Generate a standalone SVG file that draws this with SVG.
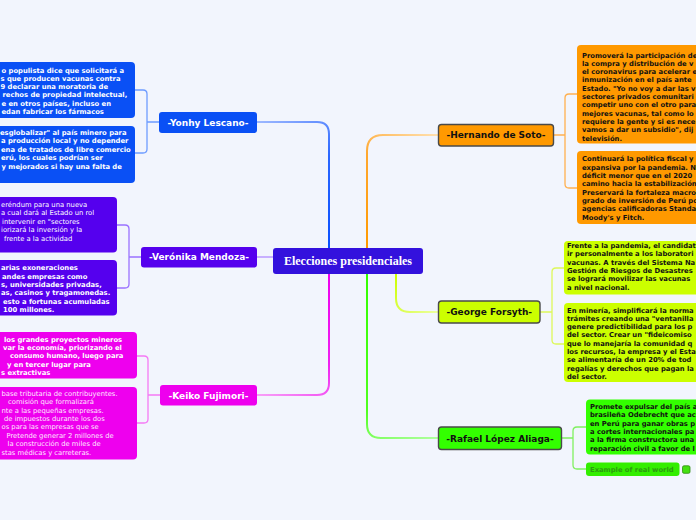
<svg xmlns="http://www.w3.org/2000/svg" width="696" height="520" viewBox="0 0 696 520">
<style>
.bg{fill:#f2f5fd}
.lf{font-family:"DejaVu Sans",Verdana,sans-serif;font-size:6.8px;font-weight:bold}
.ln{font-family:"DejaVu Sans",Verdana,sans-serif;font-size:6.8px;font-weight:normal}
.nl{font-family:"DejaVu Sans",Verdana,sans-serif;font-size:9px;font-weight:bold;text-anchor:middle}
.w{fill:#ffffff}
.k{fill:#111111}
.br{fill:none;stroke-width:1.3;stroke-linecap:round}
.mb{fill:none;stroke-width:2;stroke-linecap:round}
.bd{stroke:#4a4a4a;stroke-width:1.4}
</style>
<defs>
<linearGradient id="gY" gradientUnits="userSpaceOnUse" x1="329" y1="248" x2="257" y2="122"><stop offset="0" stop-color="#0a50ff"/><stop offset="0.55" stop-color="#2a66ff"/><stop offset="1" stop-color="#9db8ff"/></linearGradient>
<linearGradient id="gK" gradientUnits="userSpaceOnUse" x1="329" y1="274" x2="257" y2="395"><stop offset="0" stop-color="#ee00ee"/><stop offset="0.55" stop-color="#f020f0"/><stop offset="1" stop-color="#f8a0f8"/></linearGradient>
<linearGradient id="gH" gradientUnits="userSpaceOnUse" x1="367" y1="248" x2="438" y2="135"><stop offset="0" stop-color="#ff9900"/><stop offset="0.6" stop-color="#ffa830"/><stop offset="1" stop-color="#ffe0b0"/></linearGradient>
<linearGradient id="gG" gradientUnits="userSpaceOnUse" x1="396" y1="274" x2="438" y2="312"><stop offset="0" stop-color="#ccff00"/><stop offset="1" stop-color="#ecffa0"/></linearGradient>
<linearGradient id="gR" gradientUnits="userSpaceOnUse" x1="367" y1="274" x2="438" y2="438"><stop offset="0" stop-color="#33ff00"/><stop offset="0.7" stop-color="#50ff20"/><stop offset="1" stop-color="#b0ffa0"/></linearGradient>
</defs>
<rect class="bg" x="0" y="0" width="696" height="520"/>

<g id="connectors">
<path class="mb" stroke="url(#gY)" d="M329,248 V134 Q329,122 317,122 H257"/>
<path class="mb" stroke="url(#gK)" d="M329,274 V383 Q329,395 317,395 H257"/>
<path class="mb" stroke="url(#gH)" d="M367,248 V151 Q367,135 383,135 H438"/>
<path class="mb" stroke="url(#gG)" d="M396,274 V298 Q396,312 410,312 H438"/>
<path class="mb" stroke="url(#gR)" d="M367,274 V424 Q367,438 381,438 H438"/>
<path class="mb" stroke="#c8b0ff" d="M257,257 H273"/>
<path class="br" stroke="#6e9cff" d="M135,90 H143 Q147,90 147,94 V149 Q147,153 143,153 H135 M147,122 H159"/>
<path class="br" stroke="#9a72ff" d="M117,225 H125 Q129,225 129,229 V284 Q129,288 125,288 H117 M129,257 H141"/>
<path class="br" stroke="#f57af5" d="M137,356 H144 Q148,356 148,360 V419 Q148,423 144,423 H137 M148,395 H160"/>
<path class="br" stroke="#ffb050" d="M577,94 H569 Q565,94 565,98 V184 Q565,188 569,188 H577 M553,135 H565"/>
<path class="br" stroke="#ddf85a" d="M564,268 H556 Q552,268 552,272 V340 Q552,344 556,344 H564 M540,312 H552"/>
<path class="br" stroke="#80f060" d="M586,427 H577 Q573,427 573,431 V465 Q573,469 577,469 H586 M562,438 H573"/>
</g>

<g id="center">
<rect x="273" y="248" width="150" height="26" rx="3" fill="#3311dd"/>
<text x="348" y="265" text-anchor="middle" font-family="'Liberation Serif','Times New Roman',serif" font-size="12" font-weight="bold" fill="#ffffff">Elecciones presidenciales</text>
</g>

<g id="yonhy">
<rect x="159" y="112" width="98" height="21" rx="3" fill="#0a50f5"/>
<text class="nl w" x="208" y="125.5">-Yonhy Lescano-</text>
</g>
<g id="yonhy-1">
<rect x="-10" y="62" width="145" height="56" rx="4" fill="#0a50f5"/>
<text class="lf w"><tspan x="1.5" y="72.5">o populista dice que solicitará a</tspan><tspan x="0.5" y="80.8">s que producen vacunas contra</tspan><tspan x="0.5" y="89.1">9 declarar una moratoria de</tspan><tspan x="2.5" y="97.4">rechos de propiedad intelectual,</tspan><tspan x="1.5" y="105.7">e en otros países, incluso en</tspan><tspan x="1.5" y="114">edan fabricar los fármacos</tspan></text>
</g>
<g id="yonhy-2">
<rect x="-10" y="126" width="145" height="57" rx="4" fill="#0a50f5"/>
<text class="lf w"><tspan x="0" y="135">esglobalizar" al país minero para</tspan><tspan x="1" y="143.4">a producción local y no depender</tspan><tspan x="1" y="151.8">ena de tratados de libre comercio</tspan><tspan x="1" y="160.2">erú, los cuales podrían ser</tspan><tspan x="1.5" y="168.6">y mejorados si hay una falta de</tspan></text>
</g>

<g id="veronika">
<rect x="141" y="247" width="116" height="20.5" rx="3" fill="#5500ee"/>
<text class="nl w" x="199" y="260.3">-Verónika Mendoza-</text>
</g>
<g id="veronika-1">
<rect x="-10" y="197" width="127" height="55.5" rx="4" fill="#5500ee"/>
<text class="ln w"><tspan x="1" y="207">eréndum para una nueva</tspan><tspan x="1" y="215.4">a cual dará al Estado un rol</tspan><tspan x="2" y="223.8">intervenir en "sectores</tspan><tspan x="1" y="232.2">iorizará la inversión y la</tspan><tspan x="4" y="240.6">frente a la actividad</tspan></text>
</g>
<g id="veronika-2">
<rect x="-10" y="260" width="127" height="55.5" rx="4" fill="#5500ee"/>
<text class="lf w"><tspan x="1" y="270.2">arias exoneraciones</tspan><tspan x="2" y="278.6">andes empresas como</tspan><tspan x="1" y="287">s, universidades privadas,</tspan><tspan x="1" y="295.4">as, casinos y tragamonedas.</tspan><tspan x="3" y="303.8">esto a fortunas acumuladas</tspan><tspan x="3" y="312.2">100 millones.</tspan></text>
</g>

<g id="keiko">
<rect x="160" y="385" width="97" height="20.5" rx="3" fill="#ee00ee"/>
<text class="nl w" x="208.5" y="398.6">-Keiko Fujimori-</text>
</g>
<g id="keiko-1">
<rect x="-10" y="332" width="147" height="46.5" rx="4" fill="#ee00ee"/>
<text class="lf w"><tspan x="4" y="341.5">los grandes proyectos mineros</tspan><tspan x="3" y="349.9">var la economía, priorizando el</tspan><tspan x="10" y="358.3">consumo humano, luego para</tspan><tspan x="7" y="366.7">y en tercer lugar para</tspan><tspan x="1" y="375.1">s extractivas</tspan></text>
</g>
<g id="keiko-2">
<rect x="-10" y="387" width="147" height="72.5" rx="4" fill="#ee00ee"/>
<text class="ln" fill="#ffe8ff"><tspan x="1.5" y="395.8">base tributaria de contribuyentes.</tspan><tspan x="8" y="404.2">comisión que formalizará</tspan><tspan x="1.5" y="412.6">nte a las pequeñas empresas.</tspan><tspan x="4" y="421">de impuestos durante los dos</tspan><tspan x="1.5" y="429.4">os para las empresas que se</tspan><tspan x="6.5" y="437.8">Pretende generar 2 millones de</tspan><tspan x="7.5" y="446.2">la construcción de miles de</tspan><tspan x="1.5" y="454.6">stas médicas y carreteras.</tspan></text>
</g>

<g id="hernando">
<rect class="bd" x="438.5" y="124.5" width="115" height="21.5" rx="3" fill="#ff9900"/>
<text class="nl k" x="496" y="138.3">-Hernando de Soto-</text>
</g>
<g id="hernando-1">
<rect x="577" y="45" width="130" height="98.5" rx="4" fill="#ff9900"/>
<text class="lf k"><tspan x="582" y="57.5">Promoverá la participación de</tspan><tspan x="582" y="65.8">la compra y distribución de v</tspan><tspan x="582" y="74.1">el coronavirus para acelerar e</tspan><tspan x="582" y="82.4">inmunización en el país ante</tspan><tspan x="582" y="90.7">Estado. "Yo no voy a dar las v</tspan><tspan x="582" y="99">sectores privados comunitari</tspan><tspan x="582" y="107.3">competir uno con el otro para</tspan><tspan x="582" y="115.6">mejores vacunas, tal como lo</tspan><tspan x="582" y="123.9">requiere la gente y si es nece</tspan><tspan x="582" y="132.2">vamos a dar un subsidio", dij</tspan><tspan x="582" y="140.5">televisión.</tspan></text>
</g>
<g id="hernando-2">
<rect x="577" y="151" width="130" height="73" rx="4" fill="#ff9900"/>
<text class="lf k"><tspan x="582" y="161.4">Continuará la política fiscal y</tspan><tspan x="582" y="169.7">expansiva por la pandemia. N</tspan><tspan x="582" y="178">déficit menor que en el 2020</tspan><tspan x="582" y="186.3">camino hacia la estabilización</tspan><tspan x="582" y="194.6">Preservará la fortaleza macro</tspan><tspan x="582" y="202.9">grado de inversión de Perú po</tspan><tspan x="582" y="211.2">agencias calificadoras Standa</tspan><tspan x="582" y="219.5">Moody's y Fitch.</tspan></text>
</g>

<g id="george">
<rect class="bd" x="438.5" y="301" width="101.5" height="22" rx="3" fill="#ccff00"/>
<text class="nl k" x="489.3" y="315.3">-George Forsyth-</text>
</g>
<g id="george-1">
<rect x="564" y="241" width="140" height="53.5" rx="4" fill="#ccff00"/>
<text class="lf k"><tspan x="567" y="248">Frente a la pandemia, el candidat</tspan><tspan x="567" y="256.3">ir personalmente a los laboratori</tspan><tspan x="567" y="264.6">vacunas. A través del Sistema Na</tspan><tspan x="567" y="272.9">Gestión de Riesgos de Desastres</tspan><tspan x="567" y="281.2">se logrará movilizar las vacunas</tspan><tspan x="567" y="289.5">a nivel nacional.</tspan></text>
</g>
<g id="george-2">
<rect x="564" y="303" width="140" height="79" rx="4" fill="#ccff00"/>
<text class="lf k"><tspan x="567" y="312.5">En minería, simplificará la norma</tspan><tspan x="567" y="320.8">trámites creando una "ventanilla</tspan><tspan x="567" y="329.1">genere predictibilidad para los p</tspan><tspan x="567" y="337.4">del sector. Crear un "fideicomiso</tspan><tspan x="567" y="345.7">que lo manejaría la comunidad q</tspan><tspan x="567" y="354">los recursos, la empresa y el Esta</tspan><tspan x="567" y="362.3">se alimentaría de un 20% de tod</tspan><tspan x="567" y="370.6">regalías y derechos que pagan la</tspan><tspan x="567" y="378.9">del sector.</tspan></text>
</g>

<g id="rafael">
<rect class="bd" x="438.5" y="427" width="123" height="22.5" rx="3" fill="#33ff00"/>
<text class="nl k" x="500" y="441.5">-Rafael López Aliaga-</text>
</g>
<g id="rafael-1">
<rect x="586" y="399.5" width="120" height="55" rx="4" fill="#33ff00"/>
<text class="lf k"><tspan x="590" y="409">Promete expulsar del país a</tspan><tspan x="590" y="417.3">brasileña Odebrecht que ac</tspan><tspan x="590" y="425.6">en Perú para ganar obras p</tspan><tspan x="590" y="433.9">a cortes internacionales pa</tspan><tspan x="590" y="442.2">a la firma constructora una</tspan><tspan x="590" y="450.5">reparación civil a favor de l</tspan></text>
</g>
<g id="rafael-2">
<rect x="586" y="462.5" width="93.5" height="13.5" rx="3" fill="#33ee00"/>
<text class="lf" fill="#2c9a12" x="590" y="471.6">Example of real world</text>
<rect x="682.5" y="465.8" width="7.5" height="7.5" rx="1.5" fill="#44e010" stroke="#2f8a10" stroke-width="0.8"/>
</g>
</svg>
